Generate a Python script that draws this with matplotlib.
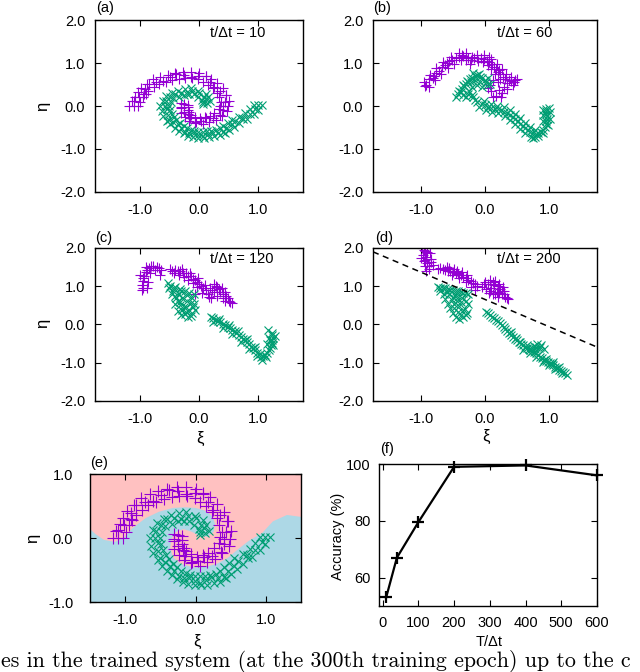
import matplotlib
matplotlib.use('Agg')
import matplotlib.pyplot as plt
import numpy as np
from matplotlib.ticker import FormatStrFormatter

plt.rcParams['font.family'] = ['Liberation Sans', 'DejaVu Sans']
plt.rcParams['axes.unicode_minus'] = False

PURPLE = '#9400d3'
GREEN = '#009e73'
PINK = '#ffc1c1'
LBLUE = '#add8e6'

# input spiral (panels a and e)
spiral_purple = [
    (-1.10, 0.00), (-1.01, 0.21), (-0.91, 0.39), (-0.72, 0.57), (-0.49, 0.67), (-0.25, 0.73),
    (-0.01, 0.70), (0.18, 0.57), (0.35, 0.36), (0.44, 0.10), (0.40, -0.10), (0.23, -0.28),
    (0.04, -0.36), (-0.15, -0.28), (-0.25, -0.13), (-0.25, 0.05),
    (-1.17, 0.00), (-1.08, 0.22), (-0.97, 0.42), (-0.77, 0.62), (-0.53, 0.73), (-0.27, 0.80),
    (0.00, 0.77), (0.21, 0.64), (0.40, 0.41), (0.51, 0.11), (0.47, -0.12), (0.28, -0.33),
    (0.06, -0.43), (-0.17, -0.35), (-0.31, -0.17), (-0.31, 0.07),
    (-1.03, 0.00), (-0.94, 0.20), (-0.85, 0.36), (-0.67, 0.52), (-0.45, 0.61), (-0.23, 0.66),
    (-0.01, 0.63), (0.15, 0.50), (0.30, 0.31), (0.37, 0.09), (0.33, -0.08), (0.18, -0.23),
    (0.02, -0.29), (-0.13, -0.21), (-0.19, -0.09), (-0.19, 0.03),
    (-1.10, 0.12), (-0.92, 0.29), (-0.84, 0.52), (-0.60, 0.58), (-0.38, 0.75), (-0.13, 0.68),
    (0.11, 0.69), (0.25, 0.44), (0.45, 0.26), (0.40, -0.01), (0.36, -0.22), (0.12, -0.29),
    (-0.05, -0.38), (-0.18, -0.18), (-0.30, -0.02),
    (-1.13, 0.11), (-1.03, 0.32), (-0.87, 0.52), (-0.65, 0.68), (-0.40, 0.77), (-0.14, 0.79),
    (0.11, 0.71), (0.31, 0.53), (0.46, 0.26), (0.49, -0.01), (0.38, -0.23), (0.17, -0.38),
    (-0.06, -0.39), (-0.24, -0.26), (-0.31, -0.05),
    (-0.99, 0.10), (-0.90, 0.28), (-0.76, 0.44), (-0.56, 0.57), (-0.34, 0.64), (-0.12, 0.65),
    (0.07, 0.57), (0.23, 0.41), (0.34, 0.20), (0.35, 0.01), (0.26, -0.16), (0.10, -0.26),
    (-0.06, -0.25), (-0.16, -0.15), (-0.19, -0.03),
]
spiral_green = [
    (0.99, 0.02), (0.85, -0.18), (0.73, -0.27), (0.61, -0.36), (0.46, -0.51), (0.32, -0.62),
    (0.15, -0.66), (-0.01, -0.67), (-0.16, -0.62), (-0.30, -0.52), (-0.43, -0.38), (-0.53, -0.21),
    (-0.58, 0.00), (-0.49, 0.21), (-0.30, 0.31), (-0.11, 0.34), (0.08, 0.21), (0.13, 0.08),
    (1.06, 0.02), (0.92, -0.19), (0.67, -0.40), (0.51, -0.56), (0.35, -0.68), (0.17, -0.73),
    (-0.01, -0.74), (-0.18, -0.69), (-0.34, -0.58), (-0.48, -0.43), (-0.60, -0.24), (-0.65, 0.00),
    (-0.55, 0.24), (-0.35, 0.36), (-0.13, 0.41), (0.11, 0.28), (0.19, 0.11),
    (0.92, 0.02), (0.78, -0.17), (0.55, -0.32), (0.41, -0.46), (0.29, -0.56), (0.13, -0.59),
    (-0.01, -0.60), (-0.14, -0.55), (-0.26, -0.46), (-0.38, -0.33), (-0.46, -0.18), (-0.51, 0.00),
    (-0.43, 0.18), (-0.25, 0.26), (-0.09, 0.27), (0.05, 0.14), (0.07, 0.05),
    (0.95, -0.06), (0.74, -0.31), (0.55, -0.43), (0.40, -0.61), (0.22, -0.61), (0.06, -0.71),
    (-0.09, -0.63), (-0.24, -0.60), (-0.36, -0.43), (-0.50, -0.32), (-0.54, -0.08), (-0.56, 0.11),
    (-0.40, 0.29), (-0.20, 0.29), (0.00, 0.31), (0.12, 0.16),
    (0.99, -0.09), (0.80, -0.30), (0.59, -0.48), (0.43, -0.62), (0.26, -0.71), (0.08, -0.74),
    (-0.10, -0.72), (-0.26, -0.64), (-0.41, -0.51), (-0.54, -0.34), (-0.63, -0.12), (-0.60, 0.12),
    (-0.45, 0.30), (-0.24, 0.39), (-0.01, 0.35), (0.15, 0.20),
    (0.85, -0.08), (0.67, -0.25), (0.48, -0.39), (0.35, -0.51), (0.21, -0.58), (0.06, -0.60),
    (-0.08, -0.58), (-0.20, -0.51), (-0.32, -0.40), (-0.42, -0.26), (-0.49, -0.09), (-0.47, 0.09),
    (-0.34, 0.22), (-0.17, 0.27), (-0.02, 0.21), (0.06, 0.10),
]

# t/dt = 60
b_purple = [
    (-0.92, 0.50), (-0.82, 0.66), (-0.72, 0.82), (-0.62, 0.96), (-0.51, 1.07), (-0.40, 1.15),
    (-0.30, 1.15), (-0.22, 1.07), (-0.12, 1.12), (-0.02, 1.10), (0.07, 1.03), (0.14, 0.92),
    (0.20, 0.80), (0.28, 0.68), (0.37, 0.60), (0.45, 0.57),
    (-0.95, 0.57), (-0.86, 0.73), (-0.76, 0.89), (-0.66, 1.03), (-0.53, 1.15), (-0.41, 1.23),
    (-0.29, 1.23), (-0.20, 1.15), (-0.13, 1.20), (-0.01, 1.18), (0.10, 1.10), (0.19, 0.98),
    (0.26, 0.86), (0.33, 0.75), (0.40, 0.67), (0.50, 0.63),
    (-0.88, 0.44), (-0.78, 0.60), (-0.68, 0.75), (-0.58, 0.89), (-0.48, 0.99), (-0.38, 1.07),
    (-0.30, 1.07), (-0.23, 0.99), (-0.11, 1.04), (-0.03, 1.02), (0.04, 0.95), (0.10, 0.86),
    (0.15, 0.74), (0.23, 0.62), (0.34, 0.53), (0.44, 0.50),
    (0.30, 0.45), (0.22, 0.37), (0.17, 0.24), (0.10, 0.35), (0.08, 0.50), (0.20, 0.55),
    (0.27, 0.30), (0.13, 0.20), (0.05, 0.42), (0.35, 0.40), (0.25, 0.22), (0.12, 0.60),
    (-0.87, 0.62), (-0.77, 0.78), (-0.67, 0.92), (-0.57, 1.04), (-0.45, 1.13), (-0.35, 1.17),
    (-0.26, 1.11), (-0.17, 1.12), (-0.07, 1.13), (0.03, 1.06), (0.11, 0.97), (0.17, 0.86),
    (0.24, 0.74), (0.32, 0.64), (0.41, 0.58), (-0.93, 0.46), (-0.80, 0.70), (-0.60, 1.00),
    (-0.36, 1.20), (0.06, 1.14), (0.22, 0.84), (0.47, 0.60),
]
b_green = [
    (-0.42, 0.28), (-0.36, 0.40), (-0.30, 0.52), (-0.24, 0.62), (-0.16, 0.70), (-0.08, 0.68),
    (0.00, 0.60), (0.03, 0.50), (-0.05, 0.45), (-0.12, 0.50), (-0.20, 0.45), (-0.25, 0.35),
    (-0.20, 0.25), (-0.15, 0.15), (-0.30, 0.20),
    (-0.45, 0.22), (-0.40, 0.35), (-0.34, 0.48), (-0.28, 0.58), (-0.18, 0.76), (-0.10, 0.74),
    (0.04, 0.65), (0.08, 0.52), (-0.35, 0.25), (-0.22, 0.55), (-0.15, 0.60),
    (-0.05, 0.05), (0.05, -0.02), (0.15, -0.06), (0.25, -0.10), (0.35, -0.17), (0.43, -0.25),
    (0.51, -0.36), (0.59, -0.47), (0.67, -0.57), (0.75, -0.64), (0.83, -0.62), (0.90, -0.55),
    (0.95, -0.43), (0.97, -0.30), (0.96, -0.18), (0.95, -0.08),
    (-0.01, 0.12), (0.09, 0.05), (0.19, 0.01), (0.29, -0.03), (0.39, -0.10), (0.47, -0.18),
    (0.55, -0.29), (0.63, -0.40), (0.71, -0.50), (0.78, -0.56),
    (-0.09, -0.02), (0.01, -0.09), (0.11, -0.13), (0.21, -0.17), (0.31, -0.24), (0.39, -0.32),
    (0.47, -0.43), (0.55, -0.54), (0.63, -0.64), (0.72, -0.72),
    (0.83, -0.70), (0.90, -0.63), (0.99, -0.45), (1.02, -0.30), (1.01, -0.15), (1.00, -0.05),
    (0.91, -0.35), (0.90, -0.22), (0.90, -0.10), (0.78, -0.72), (0.75, -0.75),
    (0.00, 0.03), (0.10, -0.04), (0.20, -0.08), (0.30, -0.13), (0.39, -0.21), (0.47, -0.30),
    (0.55, -0.41), (0.63, -0.52), (0.71, -0.61), (0.79, -0.66), (0.87, -0.60), (0.93, -0.49),
    (0.96, -0.36), (0.97, -0.24), (0.96, -0.12), (-0.12, 0.10), (-0.18, 0.20), (-0.27, 0.28),
    (-0.38, 0.33), (-0.33, 0.46), (-0.27, 0.57), (-0.20, 0.66), (-0.12, 0.72), (-0.04, 0.66),
    (0.02, 0.56), (-0.08, 0.56),
]

# t/dt = 120
c_purple = [
    (-0.96, 0.90), (-0.96, 1.02), (-0.95, 1.14), (-0.93, 1.26), (-0.90, 1.37), (-0.84, 1.47),
    (-0.77, 1.53), (-0.70, 1.50), (-0.64, 1.42), (-0.66, 1.30), (-0.86, 1.10), (-0.88, 0.95),
    (-0.82, 1.35), (-0.74, 1.42), (-0.99, 1.30), (-0.90, 1.50),
    (-0.48, 1.45), (-0.40, 1.43), (-0.32, 1.38), (-0.22, 1.33), (-0.14, 1.25), (-0.06, 1.15),
    (0.00, 1.05), (0.06, 0.95), (-0.42, 1.35), (-0.34, 1.30), (-0.25, 1.24), (-0.18, 1.15),
    (-0.10, 1.08), (-0.04, 0.98), (-0.28, 1.44), (-0.15, 1.35), (-0.02, 1.20), (0.10, 1.02),
    (0.15, 0.80), (0.22, 0.90), (0.30, 0.98), (0.38, 0.95), (0.44, 0.85), (0.45, 0.73),
    (0.50, 0.62), (0.55, 0.55), (0.40, 0.68), (0.30, 0.75), (0.20, 0.68), (0.12, 0.90),
    (0.25, 1.05), (0.35, 0.85), (0.43, 0.60), (-0.06, 0.80), (0.05, 0.82),
    (-0.95, 0.96), (-0.94, 1.20), (-0.87, 1.42), (-0.80, 1.52), (-0.67, 1.47), (-0.45, 1.40),
    (-0.36, 1.40), (-0.27, 1.34), (-0.19, 1.27), (-0.10, 1.18), (-0.03, 1.10), (0.03, 1.00),
    (0.18, 0.95), (0.26, 0.85), (0.34, 0.92), (0.40, 0.78), (0.48, 0.68), (0.52, 0.58),
    (0.28, 1.00), (0.16, 0.72),
]
c_green = [
    (-0.48, 1.00), (-0.40, 0.98), (-0.32, 0.92), (-0.24, 0.86), (-0.16, 0.82), (-0.08, 0.80),
    (-0.44, 0.88), (-0.40, 0.75), (-0.36, 0.62), (-0.32, 0.50), (-0.28, 0.38), (-0.24, 0.28),
    (-0.18, 0.20), (-0.30, 0.25), (-0.36, 0.35), (-0.28, 0.70), (-0.20, 0.62), (-0.14, 0.55),
    (-0.10, 0.45), (-0.22, 0.45), (-0.34, 0.80), (-0.46, 0.80), (-0.40, 0.52), (-0.12, 0.30),
    (-0.06, 0.38), (-0.18, 0.35), (-0.52, 1.08),
    (0.20, 0.20), (0.28, 0.12), (0.36, 0.05), (0.44, -0.02), (0.52, -0.10), (0.60, -0.18),
    (0.67, -0.27), (0.74, -0.37), (0.81, -0.47), (0.88, -0.58), (0.95, -0.68), (1.02, -0.78),
    (1.08, -0.82), (1.14, -0.75), (1.19, -0.62), (1.22, -0.48), (1.24, -0.35), (1.22, -0.22),
    (1.16, -0.15),
    (0.34, 0.13), (0.50, -0.02), (0.66, -0.18), (0.80, -0.39), (0.94, -0.60), (1.20, -0.40),
    (1.28, -0.30), (1.25, -0.55),
    (0.24, 0.06), (0.40, -0.10), (0.56, -0.26), (0.70, -0.45), (0.84, -0.64), (0.98, -0.82),
    (1.06, -0.92), (1.12, -0.85), (1.15, -0.50), (1.17, -0.35),
    (0.24, 0.16), (0.32, 0.08), (0.40, 0.02), (0.48, -0.06), (0.56, -0.14), (0.63, -0.22),
    (0.70, -0.32), (0.77, -0.42), (0.84, -0.52), (0.91, -0.63), (0.98, -0.74), (1.05, -0.84),
    (1.11, -0.80), (1.17, -0.68), (1.21, -0.55), (1.23, -0.42), (1.23, -0.28),
    (-0.50, 0.94), (-0.42, 0.94), (-0.30, 0.86), (-0.20, 0.76), (-0.12, 0.68), (-0.38, 0.68),
    (-0.32, 0.58), (-0.26, 0.44), (-0.22, 0.32), (-0.14, 0.22), (-0.08, 0.52),
]

# t/dt = 200
d_purple = [
    (-0.98, 2.00), (-0.94, 1.92), (-0.97, 1.82), (-0.92, 1.75), (-0.96, 1.66), (-0.90, 1.60),
    (-0.94, 1.52), (-0.88, 1.45), (-0.85, 1.70), (-0.86, 1.85), (-1.00, 1.72), (-0.82, 1.55),
    (-0.92, 1.38), (-0.84, 1.62),
    (-0.74, 1.45), (-0.66, 1.44), (-0.58, 1.40), (-0.50, 1.36), (-0.42, 1.32), (-0.34, 1.24),
    (-0.26, 1.16), (-0.19, 1.08), (-0.12, 1.00), (-0.60, 1.50), (-0.48, 1.44), (-0.36, 1.36),
    (-0.28, 1.28), (-0.52, 1.28), (-0.40, 1.22), (-0.30, 1.10), (-0.22, 0.98), (-0.16, 0.90),
    (0.00, 1.10), (0.08, 1.15), (0.16, 1.12), (0.22, 1.05), (0.28, 0.98), (0.30, 0.88),
    (0.26, 0.80), (0.32, 0.72), (0.36, 0.66), (0.18, 0.85), (0.10, 0.95), (0.02, 0.92),
    (-0.04, 0.98), (0.12, 0.78), (0.20, 0.72), (0.06, 0.82), (0.24, 0.92), (0.14, 1.02),
    (-0.96, 1.95), (-0.90, 1.88), (-0.93, 1.68), (-0.88, 1.52), (-0.70, 1.48), (-0.62, 1.42),
    (-0.54, 1.38), (-0.46, 1.34), (-0.38, 1.28), (-0.30, 1.20), (-0.22, 1.12), (-0.15, 1.04),
    (-0.44, 1.40), (-0.56, 1.46), (0.04, 1.04), (0.12, 1.10), (0.20, 1.00), (0.26, 0.88),
    (0.30, 0.78), (0.08, 0.88), (0.16, 0.78), (0.22, 0.82), (0.34, 0.70), (-0.02, 1.06),
]
d_green = [
    (-0.74, 0.98), (-0.66, 0.96), (-0.58, 0.92), (-0.50, 0.90), (-0.42, 0.86), (-0.34, 0.82),
    (-0.26, 0.80), (-0.70, 0.88), (-0.64, 0.78), (-0.62, 0.66), (-0.58, 0.54), (-0.55, 0.42),
    (-0.50, 0.30), (-0.45, 0.20), (-0.40, 0.15), (-0.34, 0.18), (-0.30, 0.24), (-0.36, 0.35),
    (-0.40, 0.48), (-0.44, 0.60), (-0.50, 0.72), (-0.56, 0.80), (-0.46, 0.76), (-0.36, 0.68),
    (-0.30, 0.60), (-0.26, 0.52), (-0.48, 0.42), (-0.28, 0.30),
    (0.02, 0.33), (0.08, 0.25), (0.14, 0.16), (0.20, 0.08), (0.26, -0.02), (0.32, -0.12),
    (0.38, -0.22), (0.44, -0.32), (0.50, -0.42), (0.56, -0.50), (0.62, -0.58), (0.68, -0.64),
    (0.74, -0.70), (0.80, -0.76), (0.86, -0.84), (0.92, -0.92), (0.98, -0.98), (1.04, -1.04),
    (1.10, -1.10), (1.16, -1.18), (1.22, -1.24), (1.28, -1.32),
    (0.76, -0.56), (0.82, -0.50), (0.88, -0.55), (0.92, -0.65), (0.84, -0.62), (0.78, -0.65),
    (0.60, -0.66), (0.70, -0.74), (0.80, -0.84), (0.90, -0.98), (1.00, -1.06), (1.10, -1.16),
    (1.20, -1.28), (0.66, -0.55), (0.96, -0.90), (1.06, -0.98), (1.16, -1.10), (0.40, -0.20),
    (0.48, -0.35), (0.54, -0.46),
    (0.05, 0.29), (0.11, 0.20), (0.17, 0.12), (0.23, 0.03), (0.29, -0.07), (0.35, -0.17),
    (0.41, -0.27), (0.47, -0.37), (0.53, -0.46), (0.59, -0.54), (0.65, -0.61), (0.71, -0.67),
    (0.77, -0.73), (0.83, -0.80), (0.89, -0.88), (0.95, -0.95), (1.01, -1.01), (1.07, -1.07),
    (1.13, -1.14), (1.19, -1.21), (1.25, -1.28), (0.80, -0.58), (0.86, -0.60), (0.74, -0.62),
    (-0.70, 0.94), (-0.62, 0.94), (-0.54, 0.90), (-0.46, 0.88), (-0.38, 0.84), (-0.30, 0.81),
    (-0.60, 0.84), (-0.52, 0.64), (-0.48, 0.52), (-0.42, 0.32), (-0.38, 0.24), (-0.32, 0.40),
    (-0.38, 0.58), (-0.44, 0.68),
]

# separating line in (d)
line_slope = -0.71
line_icept = 0.65

# class region (pink) boundary in (e); the rest is blue
region_x = [-1.5, 1.5, 1.5, 1.3, 1.1, 0.95, 0.75, 0.6, 0.46, 0.31, 0.15, -0.03, -0.22, -0.32,
            -0.36, -0.34, -0.27, -0.17, -0.06, 0.05, 0.17, 0.26, 0.28, 0.24, 0.13, 0.0, -0.15,
            -0.32, -0.52, -0.71, -0.9, -1.02, -1.15, -1.3, -1.42, -1.5]
region_y = [1.0, 1.0, 0.33, 0.36, 0.26, 0.08, -0.05, -0.18, -0.31, -0.40, -0.45, -0.46, -0.40,
            -0.30, -0.15, 0.0, 0.10, 0.14, 0.10, 0.04, 0.02, 0.10, 0.22, 0.34, 0.43, 0.47, 0.48,
            0.47, 0.41, 0.31, 0.15, 0.0, -0.06, -0.03, 0.06, 0.14]

# accuracy vs T/dt (f)
T_vals = [10, 40, 100, 200, 400, 600]
accuracy = [53, 67, 79.5, 99, 99.5, 96]

W, H = 640, 672
FS = 10.5
fig = plt.figure(figsize=(W / 100, H / 100), dpi=100)


def box(l, t, r, b):
    return [l / W, 1 - b / H, (r - l) / W, (b - t) / H]


def ftxt(px, py, s, **kw):
    fig.text(px / W, 1 - py / H, s, ha=kw.pop('ha', 'center'), va=kw.pop('va', 'center'), **kw)


def style(ax):
    ax.tick_params(direction='in', top=True, right=True, length=4, width=0.8,
                   labelsize=FS, colors='black')
    for s in ax.spines.values():
        s.set_linewidth(1.0)


def scatter(ax, pts_p, pts_g, ms):
    p = np.array(pts_p)
    g = np.array(pts_g)
    ax.plot(p[:, 0], p[:, 1], ls='none', marker='+', color=PURPLE, ms=ms, mew=0.8)
    ax.plot(g[:, 0], g[:, 1], ls='none', marker='x', color=GREEN, ms=ms * 0.8, mew=0.8)


panels = [
    (box(95, 20.4, 303, 191.6), spiral_purple, spiral_green, '10'),
    (box(373, 20.4, 597, 191.6), b_purple, b_green, '60'),
    (box(95, 247.7, 303, 401), c_purple, c_green, '120'),
    (box(373, 247.7, 597, 401), d_purple, d_green, '200'),
]
axes = []
for rect, pp, pg, tt in panels:
    ax = fig.add_axes(rect)
    scatter(ax, pp, pg, 6.5)
    ax.set_xlim(-1.75, 1.75)
    ax.set_ylim(-2, 2)
    ax.set_xticks([-1, 0, 1])
    ax.set_yticks([-2, -1, 0, 1, 2])
    ax.xaxis.set_major_formatter(FormatStrFormatter('%.1f'))
    ax.yaxis.set_major_formatter(FormatStrFormatter('%.1f'))
    style(ax)
    ax.tick_params(axis='x', pad=8)
    ax.tick_params(axis='y', pad=7)
    ax.text(0.555, 0.925, 't/\u0394t = ' + tt, transform=ax.transAxes, fontsize=FS,
            ha='left', va='center')
    axes.append(ax)

# dashed separator in (d)
lx = np.array([-1.75, 1.75])
axes[3].plot(lx, line_slope * lx + line_icept, 'k--', lw=1.1, dashes=(4, 3))

# (e) classification map
ax_e = fig.add_axes(box(90, 474, 301, 602))
ax_e.set_facecolor(LBLUE)
ax_e.fill(region_x, region_y, color=PINK, lw=0, zorder=0)
scatter(ax_e, spiral_purple, spiral_green, 8)
ax_e.set_xlim(-1.5, 1.5)
ax_e.set_ylim(-1, 1)
ax_e.set_xticks([-1, 0, 1])
ax_e.set_yticks([-1, 0, 1])
ax_e.xaxis.set_major_formatter(FormatStrFormatter('%.1f'))
ax_e.yaxis.set_major_formatter(FormatStrFormatter('%.1f'))
style(ax_e)
ax_e.tick_params(axis='x', pad=8)
ax_e.tick_params(axis='y', pad=12)

# (f) accuracy
ax_f = fig.add_axes(box(379, 464, 597, 606))
ax_f.plot(T_vals, accuracy, color='black', lw=1.6, marker='+', ms=9, mew=1.6, clip_on=False)
ax_f.set_xlim(-10, 600)
ax_f.set_ylim(50, 100)
ax_f.set_xticks(range(0, 601, 100))
ax_f.set_yticks([60, 80, 100])
style(ax_f)
ax_f.tick_params(axis='x', pad=7)
ax_f.tick_params(axis='y', pad=6)

# labels
for px, py, s in [(96, 8.3, '(a)'), (373, 8.3, '(b)'), (95, 237.7, '(c)'),
                  (375, 238.3, '(d)'), (90, 463.3, '(e)'), (380, 449, '(f)')]:
    ftxt(px, py, s, ha='left', fontsize=FS)

ftxt(43, 106, '\u03b7', rotation=90, fontsize=12)
ftxt(43, 323.7, '\u03b7', rotation=90, fontsize=12)
ftxt(33, 538.3, '\u03b7', rotation=90, fontsize=12)
ftxt(200, 438.3, '\u03be', fontsize=12)
ftxt(485.7, 436.7, '\u03be', fontsize=12)
ftxt(196.7, 641.7, '\u03be', fontsize=12)
ftxt(338.3, 536.7, 'Accuracy (%)', rotation=90, fontsize=FS)
ftxt(489.3, 641.7, 'T/\u0394t', fontsize=FS)

# caption fragment cut at the bottom of the image
ftxt(1, 667, 'es in the trained system (at the 300th training epoch) up to the c',
     ha='left', va='baseline', fontsize=15.8, family='cmr10')

fig.savefig('out.png', dpi=100)
